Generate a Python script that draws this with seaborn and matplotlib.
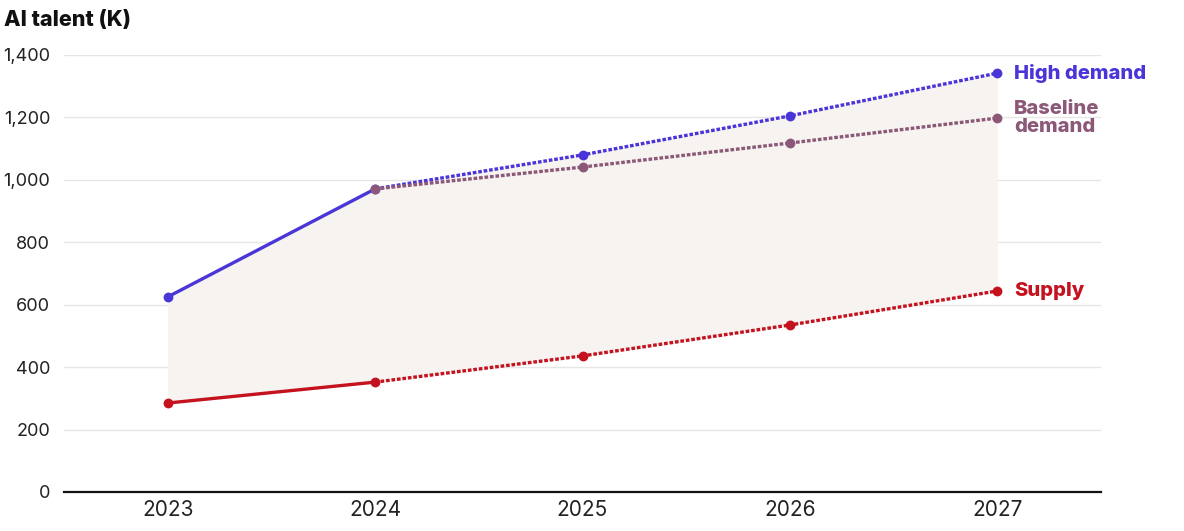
import numpy as np
import pandas as pd
import seaborn as sns
import matplotlib.pyplot as plt

years = [2023, 2024, 2025, 2026, 2027]
high_demand = [625, 971, 1080, 1205, 1342]
baseline_demand = [None, 971, 1041, 1118, 1198]
supply = [285, 352, 436, 535, 644]

series_names = ["High demand", "Baseline\ndemand", "Supply"]
colors = ["#4a35d9", "#8c5877", "#c4121f"]
yticks = [0, 200, 400, 600, 800, 1000, 1200, 1400]

sns.set_theme(style="white")
plt.rcParams['font.family'] = ['Inter', 'DejaVu Sans']

fig = plt.figure(figsize=(11.84, 5.31), dpi=100)
ax = fig.add_axes([64 / 1184, 1 - 492 / 531, (1101 - 64) / 1184, (492 - 55) / 531])

# shaded gap between supply and high demand
ax.fill_between(years, supply, high_demand, color="#f7f3f0", lw=0, zorder=1)

for name, vals, c in zip(series_names, [high_demand, baseline_demand, supply], colors):
    df = pd.DataFrame({"year": years, "value": vals}).dropna()
    actual = df[df.year <= 2024]
    proj = df[df.year >= 2024]
    if len(actual) > 1:
        sns.lineplot(data=actual, x="year", y="value", ax=ax, color=c, lw=2.4,
                     zorder=3)
    sns.lineplot(data=proj, x="year", y="value", ax=ax, color=c, lw=2.4,
                 linestyle=(0, (1.1, 0.55)), zorder=3)
    ax.scatter(df.year, df.value, color=c, s=50, zorder=4, lw=0, clip_on=False)
    ax.annotate(name, xy=(years[-1], vals[-1]), xytext=(12, 0),
                textcoords="offset points", ha="left", va="center",
                fontsize=14.5, fontweight="heavy", color=c, linespacing=1.02,
                annotation_clip=False)

ax.set_xlim(2022.5, 2027.5)
ax.set_ylim(0, 1400)
ax.set_xticks(years)
ax.set_xticklabels([str(y) for y in years], fontsize=15, color="#222222")
ax.set_yticks(yticks)
ax.set_yticklabels([f"{v:,}" for v in yticks], fontsize=13, color="#222222")
ax.tick_params(axis="y", length=0, pad=10)
ax.tick_params(axis="x", length=0, pad=6)
ax.set_xlabel("")
ax.set_ylabel("")

ax.grid(axis="y", color="#e6e6e6", lw=1)
ax.grid(axis="x", visible=False)
for s in ["top", "right", "left"]:
    ax.spines[s].set_visible(False)
ax.spines["bottom"].set_color("#111111")
ax.spines["bottom"].set_linewidth(1.6)
ax.spines["bottom"].set_zorder(5)

fig.text(4 / 1184, 1 - 20 / 531, "AI talent (K)", fontsize=15.5, fontweight="heavy",
         ha="left", va="center", color="#111111")

fig.savefig("out.png", dpi=100)
